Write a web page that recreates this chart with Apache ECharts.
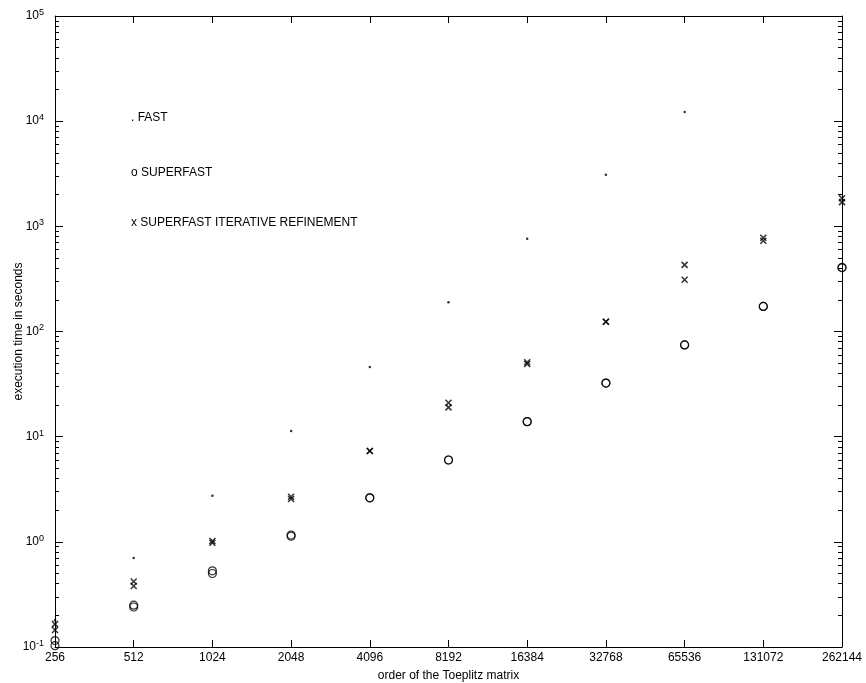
<!DOCTYPE html>
<html>
<head>
<meta charset="utf-8">
<script src="https://cdn.jsdelivr.net/npm/echarts@6/dist/echarts.min.js"></script>
<style>
    html, body { margin: 0; padding: 0; background: #fff; }
    #chart { width: 866px; height: 683px; }
</style>
</head>
<body>
<div id="chart"></div>
<script>
// order of the Toeplitz matrix
var orders = ['256', '512', '1024', '2048', '4096', '8192', '16384', '32768', '65536', '131072', '262144'];

// execution time in seconds (two runs plotted for the superfast methods)
var fastTimes = [0.18, 0.70, 2.75, 11.3, 46, 190, 760, 3100, 12200, null, null];
var superfastTimesA = [0.103, 0.24, 0.50, 1.13, 2.62, 6.0, 13.9, 32.3, 74.6, 173, 405];
var superfastTimesB = [0.115, 0.25, 0.53, 1.16, 2.62, 6.0, 13.9, 32.3, 74.6, 173, 405];
var refinementTimesA = [0.145, 0.38, 0.98, 2.55, 7.3, 19, 49, 124, 310, 730, 1700];
var refinementTimesB = [0.165, 0.42, 1.02, 2.68, 7.3, 21, 51, 124, 430, 780, 1850];

var legendTexts = ['. FAST', 'o SUPERFAST', 'x SUPERFAST ITERATIVE REFINEMENT'];

var FONT = '"Liberation Sans", Arial, sans-serif';
var crossPath = 'path://M0,0L10,10M10,0L0,10';

function initChart() {
    var chart = echarts.init(document.getElementById('chart'), null, { renderer: 'canvas' });

    var tickStyle = { color: '#000', width: 1 };
    var lineStyle = { color: '#000', width: 1 };

    var option = {
        animation: false,
        backgroundColor: '#fff',
        textStyle: { fontFamily: FONT, color: '#000' },
        grid: { left: 55, right: 24, top: 16, bottom: 36, containLabel: false, outerBoundsMode: 'none' },
        xAxis: [
            {
                type: 'category',
                data: orders,
                boundaryGap: false,
                name: 'order of the Toeplitz matrix',
                nameLocation: 'middle',
                nameGap: 23,
                nameMoveOverlap: false,
                nameTextStyle: { fontSize: 12, color: '#000', fontFamily: FONT },
                axisLine: { lineStyle: lineStyle },
                axisTick: { inside: true, length: 7, lineStyle: tickStyle },
                axisLabel: { fontSize: 12, color: '#000', margin: 5, fontFamily: FONT },
                splitLine: { show: false }
            },
            {
                type: 'category',
                data: orders,
                boundaryGap: false,
                position: 'top',
                axisLine: { lineStyle: lineStyle },
                axisTick: { inside: true, length: 7, lineStyle: tickStyle },
                axisLabel: { show: false },
                splitLine: { show: false }
            }
        ],
        yAxis: [
            {
                type: 'log',
                logBase: 10,
                min: 0.1,
                max: 100000,
                splitNumber: 6,
                name: 'execution time in seconds',
                nameLocation: 'middle',
                nameGap: 30,
                nameMoveOverlap: false,
                nameTextStyle: { fontSize: 12, color: '#000', fontFamily: FONT },
                axisLine: { show: true, lineStyle: lineStyle },
                axisTick: { show: true, inside: true, length: 8, lineStyle: tickStyle },
                minorTick: { show: true, splitNumber: 9, length: 4, lineStyle: tickStyle },
                axisLabel: {
                    margin: 11,
                    formatter: function (v) {
                        return '{b|10}{s|' + Math.round(Math.log10(v)) + '}';
                    },
                    rich: {
                        b: { fontSize: 12, color: '#000', fontFamily: FONT, lineHeight: 16 },
                        s: { fontSize: 9, color: '#000', fontFamily: FONT, verticalAlign: 'top', lineHeight: 16 }
                    }
                },
                splitLine: { show: false },
                minorSplitLine: { show: false }
            },
            {
                type: 'log',
                logBase: 10,
                min: 0.1,
                max: 100000,
                splitNumber: 6,
                position: 'right',
                axisLine: { show: true, lineStyle: lineStyle },
                axisTick: { show: true, inside: true, length: 8, lineStyle: tickStyle },
                minorTick: { show: true, splitNumber: 9, length: 4, lineStyle: tickStyle },
                axisLabel: { show: false },
                splitLine: { show: false },
                minorSplitLine: { show: false }
            }
        ],
        series: [
            {
                name: 'FAST',
                type: 'scatter',
                data: fastTimes,
                symbol: 'circle',
                symbolSize: 2.5,
                itemStyle: { color: '#000' }
            },
            {
                name: 'SUPERFAST',
                type: 'scatter',
                data: superfastTimesA,
                symbol: 'circle',
                symbolSize: 8,
                itemStyle: { color: 'rgba(0,0,0,0)', borderColor: '#000', borderWidth: 1.2 }
            },
            {
                name: 'SUPERFAST',
                type: 'scatter',
                data: superfastTimesB,
                symbol: 'circle',
                symbolSize: 8,
                itemStyle: { color: 'rgba(0,0,0,0)', borderColor: '#000', borderWidth: 1.2 }
            },
            {
                name: 'SUPERFAST ITERATIVE REFINEMENT',
                type: 'scatter',
                data: refinementTimesA,
                symbol: crossPath,
                symbolSize: 6,
                itemStyle: { color: 'none', borderColor: '#000', borderWidth: 1.5 }
            },
            {
                name: 'SUPERFAST ITERATIVE REFINEMENT',
                type: 'scatter',
                data: refinementTimesB,
                symbol: crossPath,
                symbolSize: 6,
                itemStyle: { color: 'none', borderColor: '#000', borderWidth: 1.5 }
            }
        ],
        graphic: [
            {
                type: 'text', left: 131, top: 112,
                style: { text: legendTexts[0], font: '12px ' + FONT, fill: '#000' }
            },
            {
                type: 'text', left: 131, top: 167,
                style: { text: legendTexts[1], font: '12px ' + FONT, fill: '#000' }
            },
            {
                type: 'text', left: 131, top: 217,
                style: { text: legendTexts[2], font: '12px ' + FONT, fill: '#000' }
            }
        ]
    };

    chart.setOption(option);
    return chart;
}

initChart();
</script>
</body>
</html>
